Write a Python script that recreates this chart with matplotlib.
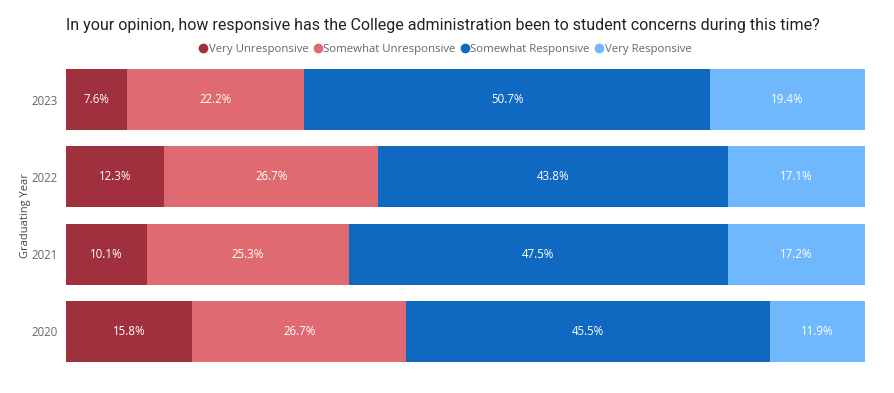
import matplotlib
matplotlib.use("Agg")
import matplotlib.pyplot as plt
from matplotlib.lines import Line2D
import numpy as np

years = ["2020", "2021", "2022", "2023"]
categories = ["Very Unresponsive", "Somewhat Unresponsive", "Somewhat Responsive", "Very Responsive"]
very_unresp = [15.8, 10.1, 12.3, 7.6]
somewhat_unresp = [26.7, 25.3, 26.7, 22.2]
somewhat_resp = [45.5, 47.5, 43.8, 50.7]
very_resp = [11.9, 17.2, 17.1, 19.4]
colors = ["#A0303D", "#E06A72", "#0F69C1", "#70B8FD"]

plt.rcParams["font.family"] = ["Open Sans", "DejaVu Sans"]

fig = plt.figure(figsize=(8.94, 3.93), dpi=100)
ax = fig.add_axes([0.0738, 0.0789, 0.8938, 0.7455])

series = [very_unresp, somewhat_unresp, somewhat_resp, very_resp]
totals = np.sum(series, axis=0)
y = np.arange(len(years))
left = np.zeros(len(years))
for name, vals, c in zip(categories, series, colors):
    vals = np.array(vals)
    widths = vals / totals * 100  # 100% stacked
    ax.barh(y, widths, left=left, height=0.79, color=c, label=name)
    for yi, l, w, v in zip(y, left, widths, vals):
        ax.text(l + w / 2, yi, f"{v:.1f}%", ha="center", va="center",
                color="white", fontsize=8.3)
    left += widths

ax.set_xlim(0, 100)
ax.set_ylim(-0.395, 3.395)
ax.set_yticks(y)
ax.set_yticklabels(years, color="#666666", fontsize=8.3)
ax.tick_params(axis="y", length=0, pad=6)
ax.set_xticks([])
for s in ax.spines.values():
    s.set_visible(False)
ax.set_ylabel("Graduating Year", color="#444444", fontsize=8, labelpad=0)

fig.text(0.495, 0.935, "In your opinion, how responsive has the College administration been to student concerns during this time?",
         ha="center", va="center", fontsize=11.5, color="#222222", family=["Roboto", "DejaVu Sans"])

handles = [Line2D([], [], marker="o", linestyle="", color=c, markersize=6) for c in colors]
fig.legend(handles, categories, loc="center", bbox_to_anchor=(0.497, 0.873), ncol=4,
           frameon=False, fontsize=8.2, labelcolor="#666666", handletextpad=0.0,
           columnspacing=0.3, handlelength=1.0)

fig.savefig("out.png", dpi=100)
